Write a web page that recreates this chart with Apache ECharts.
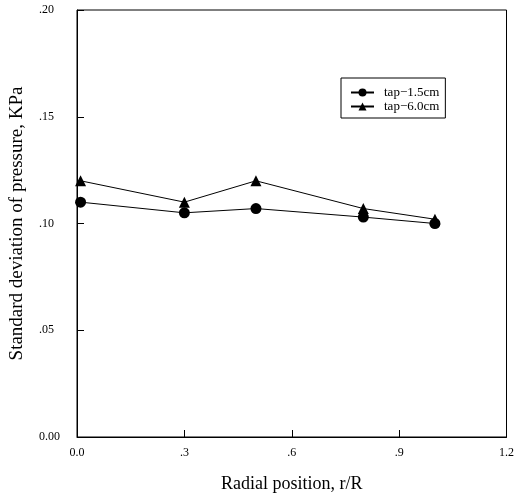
<!DOCTYPE html>
<html>
	<head>
		<meta charset="utf-8">
		<title>Standard deviation of pressure</title>
		<script src="https://cdn.jsdelivr.net/npm/echarts@6/dist/echarts.min.js"></script>
	</head>
	<body style="margin:0">
		<div id="main" style="width: 517px;height:500px;"></div>
		<script type="text/javascript">
			// data
			var radial = [0.01, 0.3, 0.5, 0.8, 1.0];
			var tap15 = [0.110, 0.105, 0.107, 0.103, 0.100];
			var tap60 = [0.120, 0.110, 0.120, 0.107, 0.102];
			var xTickLabels = {'0': '0.0', '0.3': '.3', '0.6': '.6', '0.9': '.9', '1.2': '1.2'};
			var yTickLabels = {'0': '0.00', '0.05': '.05', '0.1': '.10', '0.15': '.15', '0.2': '.20'};

			function pairs(xs, ys) {
				return xs.map(function (x, i) { return [x, ys[i]]; });
			}

			var font = '"Liberation Serif", "DejaVu Serif", serif';
			var myChart = echarts.init(document.getElementById('main'));
			var option = {
				animation: false,
				backgroundColor: '#fff',
				textStyle: { fontFamily: font, color: '#000' },
				grid: { left: 75, right: 10, top: 10, bottom: 63, show: true, borderColor: '#000', borderWidth: 1 },
				legend: {
					orient: 'vertical',
					left: 341, top: 78,
					padding: [8, 6, 5, 9],
					borderColor: '#000', borderWidth: 1,
					itemWidth: 23, itemHeight: 10, itemGap: 1,
					textStyle: { fontFamily: font, fontSize: 13, lineHeight: 12, color: '#000', padding: [0, 0, 0, 5] },
					data: ['tap\u22121.5cm', 'tap\u22126.0cm']
				},
				xAxis: {
					type: 'value', min: 0, max: 1.2, interval: 0.3,
					name: 'Radial position, r/R', nameLocation: 'middle', nameGap: 38,
					nameTextStyle: { fontFamily: font, fontSize: 18, color: '#000' },
					axisLine: { lineStyle: { color: '#000' } },
					axisTick: { inside: true, length: 7, lineStyle: { color: '#000' } },
					axisLabel: { fontFamily: font, fontSize: 12, color: '#000', margin: 10,
						formatter: function (v) { return xTickLabels[String(+v.toFixed(1))] || ''; } },
					splitLine: { show: false }
				},
				yAxis: {
					type: 'value', min: 0, max: 0.2, interval: 0.05,
					name: 'Standard deviation of pressure, KPa', nameLocation: 'middle', nameGap: 50,
					nameTextStyle: { fontFamily: font, fontSize: 19, color: '#000' },
					axisLine: { lineStyle: { color: '#000' } },
					axisTick: { inside: true, length: 7, lineStyle: { color: '#000' } },
					axisLabel: { fontFamily: font, fontSize: 12, color: '#000', margin: 38, align: 'left',
						formatter: function (v) { return yTickLabels[String(+v.toFixed(2))] || ''; } },
					splitLine: { show: false }
				},
				series: [
					{
						name: 'tap\u22121.5cm', type: 'line', data: pairs(radial, tap15),
						symbol: 'circle', symbolSize: 11,
						lineStyle: { color: '#000', width: 1 },
						itemStyle: { color: '#000' }
					},
					{
						name: 'tap\u22126.0cm', type: 'line', data: pairs(radial, tap60),
						symbol: 'triangle', symbolSize: 11,
						lineStyle: { color: '#000', width: 1 },
						itemStyle: { color: '#000' }
					}
				]
			};
			myChart.setOption(option);
		</script>
	</body>
</html>
